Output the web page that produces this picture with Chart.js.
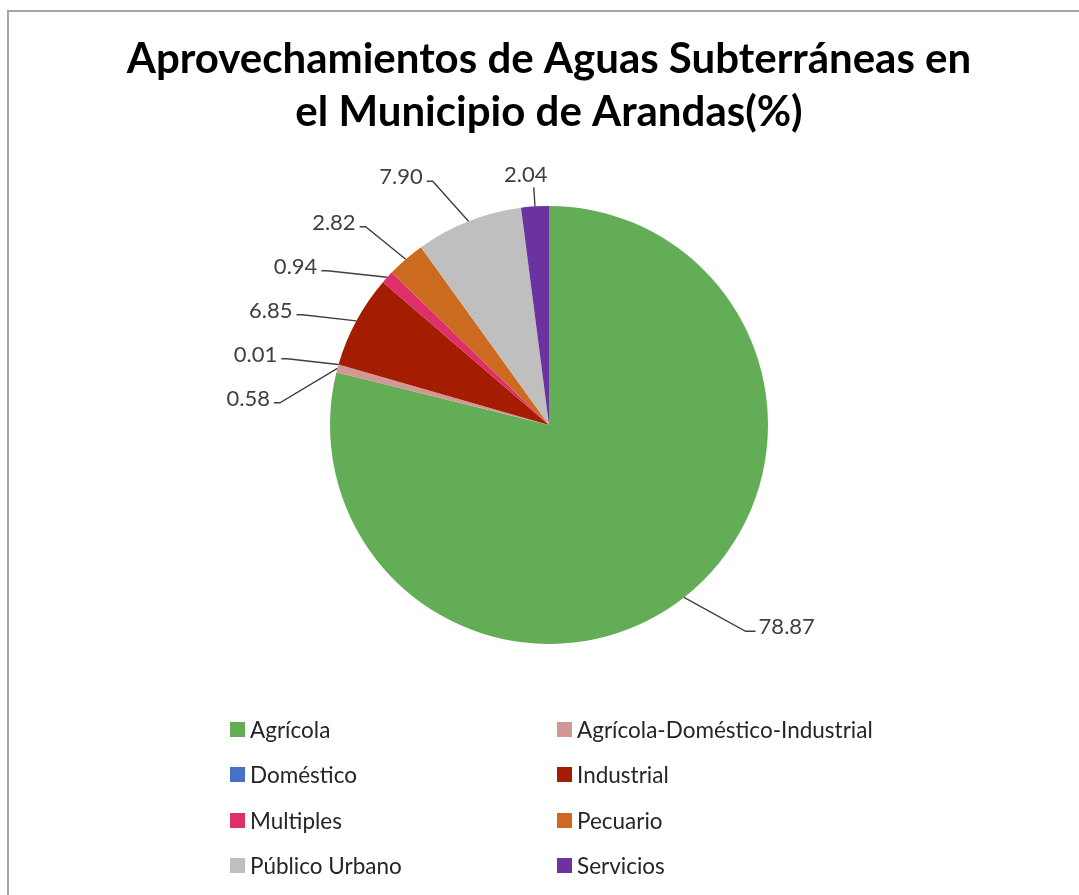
<!DOCTYPE html>
<html>
<head>
<meta charset="utf-8">
<script src="https://cdn.jsdelivr.net/npm/chart.js@4"></script>
<style>
  html, body { margin: 0; padding: 0; background: #fff; overflow: hidden; }
  #wrap { position: relative; width: 1079px; height: 895px; }
  #frame { position: absolute; left: 7px; top: 10px; width: 1200px; height: 1000px;
           border: 2px solid #a6a6a6; box-sizing: border-box; }
  #legend { position: absolute; left: 0; top: 0; font-family: Lato, sans-serif;
            font-size: 22.5px; color: #262626; }
  .item { position: absolute; display: flex; align-items: center; white-space: nowrap; }
  .box { width: 15px; height: 15px; margin-right: 5px; }
</style>
</head>
<body>
<div id="wrap">
  <div id="frame"></div>
  <canvas id="pieChart" width="1079" height="895"></canvas>
  <div id="legend"></div>
</div>
<script>
const categories = ["Agrícola", "Agrícola-Doméstico-Industrial", "Doméstico", "Industrial",
                    "Multiples", "Pecuario", "Público Urbano", "Servicios"];
const percentages = [78.87, 0.58, 0.01, 6.85, 0.94, 2.82, 7.90, 2.04];
const sliceColors = ["#62ad56", "#d29896", "#4472c4", "#a51d00", "#de2f6b", "#cc6a1f", "#bfbfbf", "#6b32a0"];
const titleLines = ["Aprovechamientos de Aguas Subterráneas en", "el Municipio de Arandas(%)"];

// labels outside the pie with leader lines, pushed apart on the crowded left side
const leaderLabels = {
    id: "leaderLabels",
    afterDatasetsDraw(chart) {
        const ctx = chart.ctx;
        const arcs = chart.getDatasetMeta(0).data;
        const cx = arcs[0].x, cy = arcs[0].y, r = arcs[0].outerRadius;
        const R = r + 43;
        const gap = 44;

        const items = arcs.map((arc, i) => {
            const a = (arc.startAngle + arc.endAngle) / 2;
            return {
                i, a,
                ex: cx + r * Math.cos(a), ey: cy + r * Math.sin(a),
                y: cy + R * Math.sin(a),
                top: Math.abs(Math.cos(a)) < 0.12,
                left: Math.cos(a) < 0
            };
        });

        const leftSide = items.filter(d => d.left && !d.top).sort((p, q) => p.y - q.y);
        for (let k = 1; k < leftSide.length; k++) {
            if (leftSide[k].y < leftSide[k - 1].y + gap) leftSide[k].y = leftSide[k - 1].y + gap;
        }

        ctx.save();
        ctx.strokeStyle = "#404040";
        ctx.lineWidth = 1.4;
        ctx.fillStyle = "#404040";
        ctx.font = "22px Lato";
        ctx.textBaseline = "alphabetic";

        items.forEach(d => {
            const txt = percentages[d.i].toFixed(2);
            if (d.top) {
                const ty = cy + (r + 19) * Math.sin(d.a);
                const tx = cx + (r + 19) * Math.cos(d.a);
                ctx.beginPath();
                ctx.moveTo(d.ex, d.ey);
                ctx.lineTo(tx, ty);
                ctx.stroke();
                ctx.textAlign = "center";
                ctx.fillText(txt, tx - 8, ty - 5);
                return;
            }
            const Rx = d.left ? r + 51 : r + 66;
            const dy = d.y - cy;
            const dx = Math.sqrt(Math.max(Rx * Rx - dy * dy, 0));
            const lx = d.left ? cx - dx : cx + dx;
            const hx = d.left ? lx - 6 : lx + 10;
            ctx.beginPath();
            ctx.moveTo(d.ex, d.ey);
            ctx.lineTo(lx, d.y);
            ctx.lineTo(hx, d.y);
            ctx.stroke();
            ctx.textAlign = d.left ? "right" : "left";
            ctx.fillText(txt, d.left ? hx - 4 : hx + 3, d.y + 3);
        });
        ctx.restore();
    }
};

const ctx = document.getElementById("pieChart").getContext("2d");

new Chart(ctx, {
    type: "pie",
    data: {
        labels: categories,
        datasets: [{
            data: percentages,
            backgroundColor: sliceColors,
            borderWidth: 0,
            hoverOffset: 0
        }]
    },
    options: {
        responsive: false,
        animation: false,
        radius: 219,
        layout: { padding: { left: 19, right: 0, top: 0, bottom: 251 } },
        plugins: {
            legend: { display: false },
            tooltip: { enabled: false },
            title: {
                display: true,
                text: titleLines,
                color: "#000",
                font: { family: "Lato", size: 42, weight: "bold", lineHeight: 1.26 },
                padding: { top: 33, bottom: 67 }
            }
        }
    },
    plugins: [leaderLabels]
});

// two-column legend like the original
const legend = document.getElementById("legend");
categories.forEach((name, i) => {
    const col = i % 2, row = Math.floor(i / 2);
    const el = document.createElement("div");
    el.className = "item";
    el.style.left = (col === 0 ? 230 : 557) + "px";
    el.style.top = (716 + row * 45.5) + "px";
    el.style.height = "26px";
    el.innerHTML = `<span class="box" style="background:${sliceColors[i]}"></span>${name}`;
    legend.appendChild(el);
});
</script>
</body>
</html>
